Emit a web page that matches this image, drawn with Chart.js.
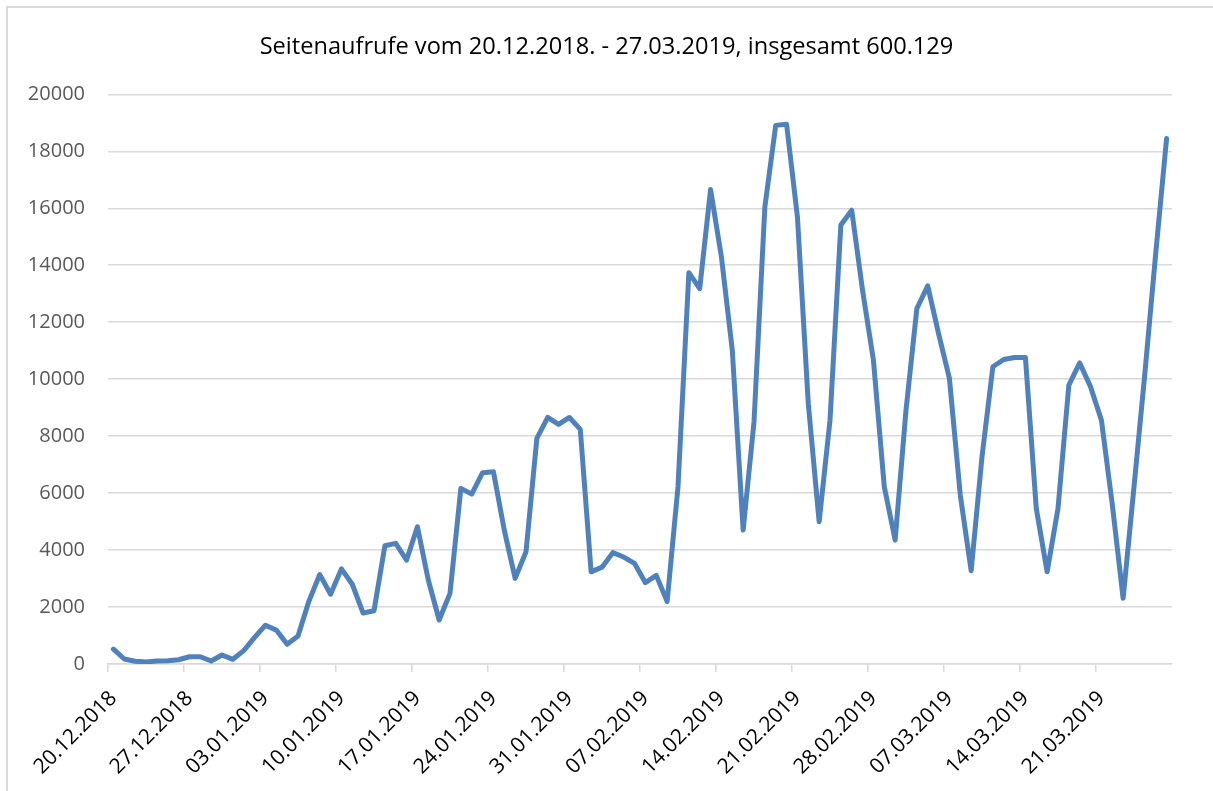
<!DOCTYPE html>
<html>
<head>
<meta charset="utf-8">
<title>Seitenaufrufe</title>
<script src="https://cdn.jsdelivr.net/npm/chart.js@4.4.1/dist/chart.umd.min.js"></script>
<style>
html,body{margin:0;padding:0;background:#fff;}
#wrap{position:relative;width:1213px;height:791px;overflow:hidden;}
#frame{position:absolute;left:6px;top:6px;width:1300px;height:900px;border-left:2px solid #d9d9d9;border-top:2px solid #d9d9d9;}
#c{position:absolute;left:0;top:0;}
</style>
</head>
<body>
<div id="wrap">
  <div id="frame"></div>
  <canvas id="c" width="1213" height="791"></canvas>
</div>
<script>
// ════════════════════════════════
// Daten
// ════════════════════════════════
const TITLE = 'Seitenaufrufe vom 20.12.2018. - 27.03.2019, insgesamt 600.129';

const DAYS = [
  '20.12.2018','21.12.2018','22.12.2018','23.12.2018','24.12.2018','25.12.2018','26.12.2018',
  '27.12.2018','28.12.2018','29.12.2018','30.12.2018','31.12.2018','01.01.2019','02.01.2019',
  '03.01.2019','04.01.2019','05.01.2019','06.01.2019','07.01.2019','08.01.2019','09.01.2019',
  '10.01.2019','11.01.2019','12.01.2019','13.01.2019','14.01.2019','15.01.2019','16.01.2019',
  '17.01.2019','18.01.2019','19.01.2019','20.01.2019','21.01.2019','22.01.2019','23.01.2019',
  '24.01.2019','25.01.2019','26.01.2019','27.01.2019','28.01.2019','29.01.2019','30.01.2019',
  '31.01.2019','01.02.2019','02.02.2019','03.02.2019','04.02.2019','05.02.2019','06.02.2019',
  '07.02.2019','08.02.2019','09.02.2019','10.02.2019','11.02.2019','12.02.2019','13.02.2019',
  '14.02.2019','15.02.2019','16.02.2019','17.02.2019','18.02.2019','19.02.2019','20.02.2019',
  '21.02.2019','22.02.2019','23.02.2019','24.02.2019','25.02.2019','26.02.2019','27.02.2019',
  '28.02.2019','01.03.2019','02.03.2019','03.03.2019','04.03.2019','05.03.2019','06.03.2019',
  '07.03.2019','08.03.2019','09.03.2019','10.03.2019','11.03.2019','12.03.2019','13.03.2019',
  '14.03.2019','15.03.2019','16.03.2019','17.03.2019','18.03.2019','19.03.2019','20.03.2019',
  '21.03.2019','22.03.2019','23.03.2019','24.03.2019','25.03.2019','26.03.2019','27.03.2019'
];

const VIEWS = [
  520, 175, 95, 70, 105, 115, 150,
  255, 255, 105, 315, 165, 470, 935,
  1360, 1190, 690, 980, 2200, 3140, 2450,
  3340, 2800, 1790, 1870, 4150, 4235, 3650,
  4820, 2950, 1545, 2480, 6165, 5965, 6715,
  6750, 4700, 3005, 3940, 7920, 8655, 8410,
  8655, 8235, 3235, 3400, 3910, 3755, 3530,
  2855, 3110, 2190, 6225, 13740, 13180, 16655,
  14290, 11020, 4700, 8500, 16045, 18910, 18950,
  15695, 9145, 4995, 8560, 15415, 15930, 13120,
  10665, 6225, 4350, 8910, 12480, 13275, 11600,
  10025, 5930, 3275, 7275, 10435, 10690, 10760,
  10760, 5460, 3240, 5460, 9790, 10570, 9730,
  8560, 5600, 2305, 6225, 10200, 14410, 18445
];

const Y_MAX = 20000;
const Y_STEP = 2000;
const LABEL_EVERY = 7;

const FONT = "'Open Sans', 'Noto Sans', sans-serif";
const GRID = '#d9d9d9';

const el = (id) => document.getElementById(id);

// ════════════════════════════════
// Chart
// ════════════════════════════════
function render(){
  if(!window.Chart) return;

  new Chart(el('c').getContext('2d'), {
    type:'line',
    data:{
      labels:DAYS,
      datasets:[{
        data:VIEWS,
        borderColor:'#4f81bd',
        borderWidth:5,
        borderJoinStyle:'round',
        borderCapStyle:'round',
        pointRadius:0,
        tension:0,
        fill:false
      }]
    },
    options:{
      responsive:false,
      animation:false,
      layout:{padding:0},
      plugins:{
        legend:{display:false},
        tooltip:{enabled:false},
        title:{
          display:true,
          text:TITLE,
          color:'#000',
          font:{family:FONT,size:23.6,weight:'normal'},
          padding:{top:33,bottom:33}
        }
      },
      scales:{
        x:{
          offset:true,
          grid:{
            offset:true,
            drawOnChartArea:false,
            tickLength:8,
            lineWidth:1.5,
            tickColor:(c)=> c.index % LABEL_EVERY === 0 ? GRID : 'rgba(0,0,0,0)'
          },
          border:{color:GRID,width:1.5},
          ticks:{
            autoSkip:false,
            minRotation:45,
            maxRotation:45,
            padding:14,
            color:'#000',
            font:{family:FONT,size:21},
            callback:(v,i)=> i % LABEL_EVERY === 0 ? DAYS[i] : ''
          },
          afterFit:(s)=>{ s.height = 127; }
        },
        y:{
          min:0,
          max:Y_MAX,
          ticks:{
            stepSize:Y_STEP,
            padding:23,
            color:'#595959',
            font:{family:FONT,size:20},
            callback:(v)=> String(v)
          },
          grid:{color:GRID,lineWidth:1.5,drawTicks:false},
          border:{display:false},
          afterFit:(s)=>{ s.width = 108; }
        },
        // leerer Rand rechts, damit der Titel mittig ueber dem Bild steht
        yR:{
          position:'right',
          min:0,
          max:Y_MAX,
          ticks:{display:false},
          grid:{drawOnChartArea:false,drawTicks:false},
          border:{display:false},
          afterFit:(s)=>{ s.width = 41; }
        }
      }
    }
  });
}

render();
</script>
</body>
</html>
